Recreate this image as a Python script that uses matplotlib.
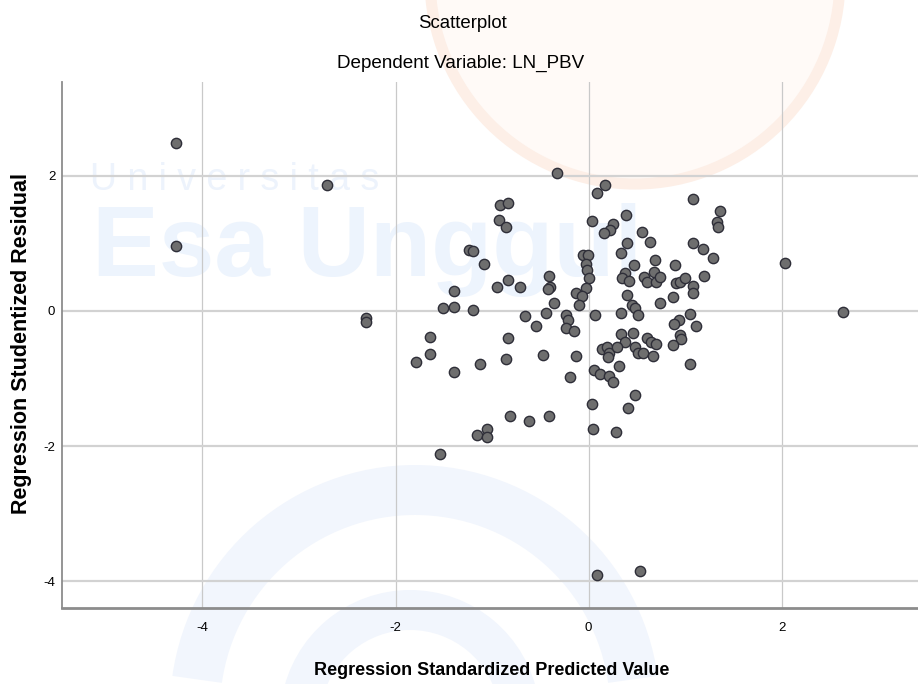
import matplotlib.pyplot as plt
from matplotlib.patches import Circle, Wedge

# --- data ---
pred_val = [-4.27, -4.27, -2.71, -2.31, -2.31,
            -0.92, -0.84, -0.93, -0.86, -1.24, -1.20, -1.08, -1.39, -0.95, -0.84, -0.71,
            -1.51, -1.39, -1.20, -0.66, -0.55,
            -1.64, -1.64, -1.79, -1.39, -1.12, -0.86, -0.84, -0.47, -0.13, -0.19, 0.06,
            0.03, 0.04, -0.81, -0.62, -0.41, -1.16, -1.05, -1.05, -1.54,
            -0.33, 0.03, 0.09, 0.17, -0.41, -0.40, -0.42, -0.36, -0.44,
            -0.06, -0.01, -0.03, -0.02, 0.00, -0.03, -0.13, -0.07, -0.10,
            -0.23, -0.21, -0.23, -0.15, 0.07,
            0.39, 0.25, 0.22, 0.16, 0.55, 0.63, 0.40, 0.33, 1.08, 1.36, 1.33, 1.34,
            1.08, 1.18, 1.29, 0.69, 0.47, 0.89, 0.38, 0.35, 0.42, 0.57, 0.60, 0.68,
            0.70, 0.74, 0.90, 0.95, 1.00, 1.08, 1.08, 1.19, 0.40, 0.74, 0.45, 0.48,
            0.51, 0.87, 1.05, 0.34, 0.94, 0.88, 1.11, 0.34, 0.46, 0.38, 0.60, 0.65,
            0.70, 0.95, 0.96, 0.87, 0.48, 0.51, 0.56, 0.67, 0.14, 0.19, 0.21, 0.20,
            0.29, 1.05, 0.31, 0.12, 0.21, 0.25, 0.48, 0.41, 0.28,
            2.03, 2.63, 0.09, 0.53]
stud_resid = [2.49, 0.96, 1.86, -0.10, -0.16,
              1.56, 1.59, 1.34, 1.24, 0.90, 0.88, 0.69, 0.30, 0.36, 0.45, 0.36,
              0.04, 0.06, 0.01, -0.07, -0.22,
              -0.38, -0.64, -0.76, -0.90, -0.78, -0.71, -0.40, -0.65, -0.67, -0.98, -0.87,
              -1.38, -1.74, -1.56, -1.63, -1.56, -1.84, -1.75, -1.86, -2.12,
              2.04, 1.33, 1.75, 1.86, 0.52, 0.36, 0.32, 0.12, -0.03,
              0.82, 0.83, 0.69, 0.60, 0.48, 0.34, 0.26, 0.22, 0.08,
              -0.06, -0.14, -0.25, -0.30, -0.06,
              1.42, 1.28, 1.20, 1.15, 1.17, 1.02, 1.01, 0.86, 1.65, 1.48, 1.32, 1.24,
              1.00, 0.91, 0.78, 0.76, 0.68, 0.68, 0.56, 0.49, 0.44, 0.50, 0.42, 0.57,
              0.42, 0.50, 0.41, 0.43, 0.49, 0.37, 0.26, 0.51, 0.24, 0.11, 0.08, 0.05,
              -0.06, 0.21, -0.05, -0.03, -0.13, -0.20, -0.23, -0.34, -0.32, -0.46, -0.40, -0.46,
              -0.49, -0.36, -0.42, -0.50, -0.53, -0.62, -0.63, -0.67, -0.57, -0.54, -0.62, -0.68,
              -0.53, -0.79, -0.82, -0.94, -0.96, -1.05, -1.25, -1.44, -1.79,
              0.71, -0.01, -3.91, -3.84]

x_ticks = [-4, -2, 0, 2]
y_ticks = [-4, -2, 0, 2]
x_ticklabels = ["-4", "-2", "0", "2"]
y_ticklabels = ["-4", "-2", "0", "2"]

font = "Liberation Sans"

fig = plt.figure(figsize=(9.18, 6.84), dpi=100)
W, H = 918, 684
inch = fig.dpi_scale_trans

# faint university watermark behind the plot (positions in inches from bottom-left)
fig.patches.append(Circle((6.35, 7.05), 2.05, transform=inch, facecolor="#fffaf7",
                          edgecolor="#fdefe7", lw=8, zorder=-2))
fig.patches.append(Wedge((4.15, -0.26), 2.45, 8, 172, width=0.5, transform=inch,
                         facecolor="#f2f6fd", edgecolor="none", zorder=-2))
fig.patches.append(Wedge((4.1, -0.36), 1.3, 10, 170, width=0.4, transform=inch,
                         facecolor="#f2f6fd", edgecolor="none", zorder=-2))
fig.text(90 / W, 1 - 180 / H, "U n i v e r s i t a s", fontsize=27, color="#edf3fc",
         family=font, va="center", zorder=-1)
fig.text(92 / W, 1 - 250 / H, "Esa Unggul", fontsize=72, fontweight="bold", color="#edf4fd",
         family=font, va="center", zorder=-1)

ax = fig.add_axes([62.3 / W, 1 - 607.7 / H, 1 - 62.3 / W, (607.7 - 81.7) / H])
ax.patch.set_alpha(0)

ax.scatter(pred_val, stud_resid, s=55, facecolor="#6e6e6e", edgecolor="#2e2e38",
           linewidth=1.0, zorder=3)

ax.set_xlim(-5.45, 3.41)
ax.set_ylim(-4.39, 3.39)
ax.set_xticks(x_ticks)
ax.set_xticklabels(x_ticklabels, family=font, fontsize=9.5)
ax.set_yticks(y_ticks)
ax.set_yticklabels(y_ticklabels, family=font, fontsize=9.5)
ax.tick_params(axis="x", length=0, pad=10)
ax.tick_params(axis="y", length=0, pad=5)
ax.xaxis.grid(True, color="#c9c9c9", linewidth=0.9)
ax.yaxis.grid(True, color="#d2d2d2", linewidth=1.6)
ax.set_axisbelow(True)
for side in ["top", "right"]:
    ax.spines[side].set_visible(False)
ax.spines["left"].set_color("#8c8c8c")
ax.spines["left"].set_linewidth(1.3)
ax.spines["bottom"].set_color("#8c8c8c")
ax.spines["bottom"].set_linewidth(2.0)

fig.text(492 / W, 1 - 675 / H, "Regression Standardized Predicted Value", family=font,
         fontsize=13, fontweight="bold", ha="center", va="baseline")
fig.text(22 / W, 1 - 344 / H, "Regression Studentized Residual", rotation=90,
         family=font, fontsize=15.5, fontweight="bold", ha="center", va="center")

fig.text(462.5 / W, 1 - 27.5 / H, "Scatterplot", family=font, fontsize=13.4,
         ha="center", va="baseline")
fig.text(461 / W, 1 - 68 / H, "Dependent Variable: LN_PBV", family=font, fontsize=13.6,
         ha="center", va="baseline")

fig.savefig("out.png", dpi=100)
